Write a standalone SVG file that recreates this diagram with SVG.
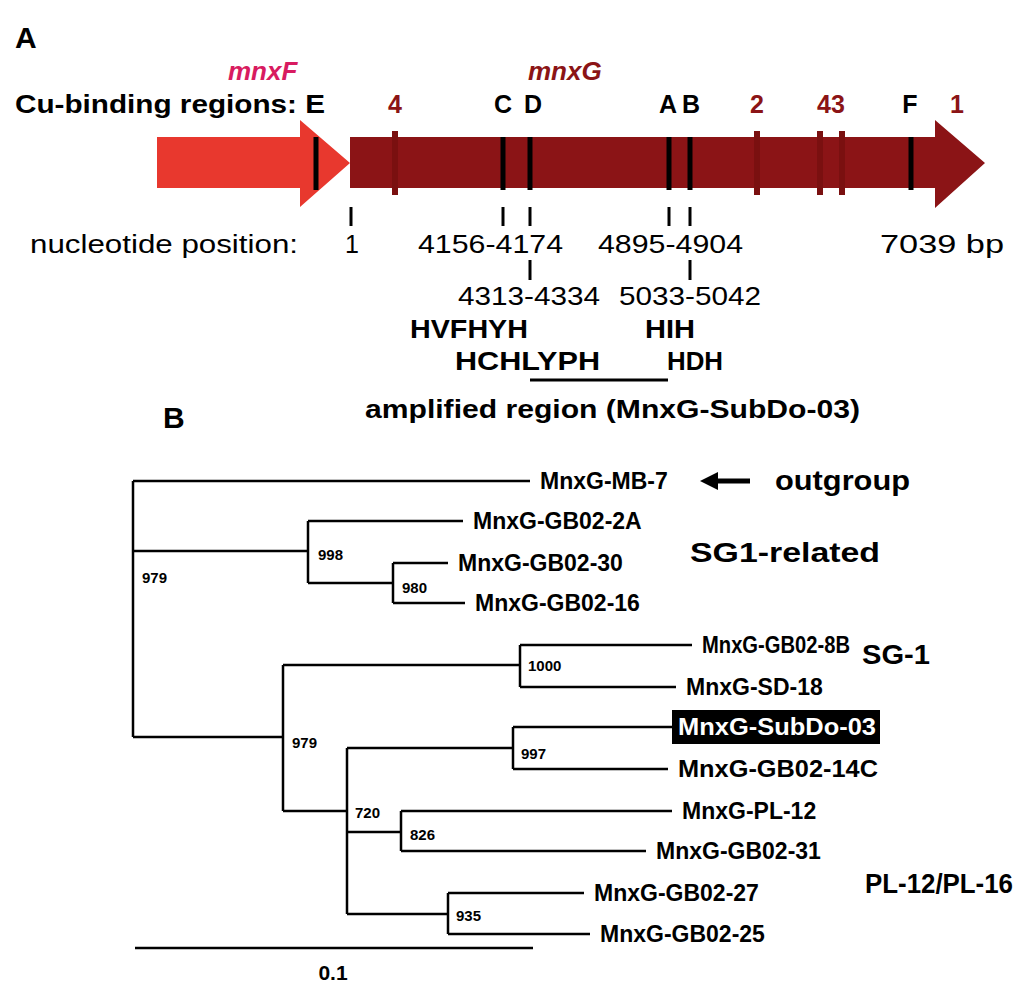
<svg xmlns="http://www.w3.org/2000/svg" width="1028" height="1000" viewBox="0 0 1028 1000">
<style>
text{font-family:"Liberation Sans",Arial,sans-serif}
.b{font-weight:bold}
.lf{font-size:23px;font-weight:bold}
.bs{font-size:15px;font-weight:bold}
.t{stroke:#000;stroke-width:2.5;fill:none}
.bar{stroke:#000;stroke-width:5}
.rt{stroke:#7a1010;stroke-width:6}
.tk{stroke:#000;stroke-width:3}
</style>
<rect width="1028" height="1000" fill="#fff"/>
<text x="15" y="48" class="b" font-size="30">A</text>
<text x="163" y="428" class="b" font-size="30">B</text>
<g id="mnxF">
<polygon points="157,137 300,137 300,120 350,163 300,207 300,188 157,188" fill="#e8382e"/>
<text x="228" y="80" class="b" font-size="26" font-style="italic" fill="#d81b60">mnxF</text>
</g>
<g id="mnxG">
<polygon points="350,137 935,137 935,120 985,163 935,208 935,188 350,188" fill="#8b1416"/>
<text x="528" y="80" class="b" font-size="26" font-style="italic" fill="#8b1416">mnxG</text>
<line class="rt" x1="395" y1="131" x2="395" y2="195"/>
<line class="rt" x1="757" y1="131" x2="757" y2="195"/>
<line class="rt" x1="820" y1="131" x2="820" y2="195"/>
<line class="rt" x1="842" y1="131" x2="842" y2="195"/>
</g>
<g id="cu-regions">
<line class="bar" x1="316" y1="137" x2="316" y2="190"/>
<line class="bar" x1="503" y1="137" x2="503" y2="190"/>
<line class="bar" x1="530" y1="137" x2="530" y2="190"/>
<line class="bar" x1="669" y1="137" x2="669" y2="190"/>
<line class="bar" x1="690" y1="137" x2="690" y2="190"/>
<line class="bar" x1="911" y1="137" x2="911" y2="190"/>
<g class="b" font-size="25" text-anchor="middle">
<text x="15" y="113" text-anchor="start" textLength="310" lengthAdjust="spacingAndGlyphs">Cu-binding regions: E</text>
<text x="395" y="113" fill="#8b1416">4</text>
<text x="503" y="113">C</text>
<text x="533" y="113">D</text>
<text x="668" y="113">A</text>
<text x="691" y="113">B</text>
<text x="757" y="113" fill="#8b1416">2</text>
<text x="831" y="113" fill="#8b1416">43</text>
<text x="910" y="113">F</text>
<text x="957" y="113" fill="#8b1416">1</text>
</g>
</g>
<g id="positions" font-size="25">
<line class="tk" x1="351" y1="207" x2="351" y2="226"/>
<line class="tk" x1="503" y1="207" x2="503" y2="226"/>
<line class="tk" x1="530" y1="207" x2="530" y2="226"/>
<line class="tk" x1="669" y1="207" x2="669" y2="226"/>
<line class="tk" x1="690" y1="207" x2="690" y2="226"/>
<line class="tk" x1="530" y1="260" x2="530" y2="280"/>
<line class="tk" x1="690" y1="260" x2="690" y2="280"/>
<text x="30" y="253" textLength="268" lengthAdjust="spacingAndGlyphs">nucleotide position:</text>
<text x="352" y="253" text-anchor="middle">1</text>
<text x="418" y="253" textLength="145" lengthAdjust="spacingAndGlyphs">4156-4174</text>
<text x="598" y="253" textLength="145" lengthAdjust="spacingAndGlyphs">4895-4904</text>
<text x="880" y="253" textLength="124" lengthAdjust="spacingAndGlyphs">7039 bp</text>
<text x="458" y="305" textLength="142" lengthAdjust="spacingAndGlyphs">4313-4334</text>
<text x="619" y="305" textLength="142" lengthAdjust="spacingAndGlyphs">5033-5042</text>
<g class="b">
<text x="410" y="338" textLength="118" lengthAdjust="spacingAndGlyphs">HVFHYH</text>
<text x="645" y="338" textLength="50" lengthAdjust="spacingAndGlyphs">HIH</text>
<text x="455" y="370" textLength="145" lengthAdjust="spacingAndGlyphs">HCHLYPH</text>
<text x="667" y="370" textLength="56" lengthAdjust="spacingAndGlyphs">HDH</text>
<text x="365" y="418" textLength="495" lengthAdjust="spacingAndGlyphs">amplified region (MnxG-SubDo-03)</text>
</g>
<line class="tk" x1="530" y1="380" x2="668" y2="380"/>
</g>
<g id="connectors">
<path class="t" d="M133,481V737M133,481H530M133,551H308M308,521V583M308,521H463M308,583H393M393,563V603M393,563H448M393,603H465M133,737H283M283,665V811M283,665H520M520,645V687M520,645H692M520,687H676M283,811H347M347,748V914M347,748H513M513,727V769M513,727H672M513,769H668M347,832H401M401,811V851M401,811H672M401,851H646M347,914H448M448,893V934M448,893H584M448,934H590"/>
<line class="t" x1="135" y1="948" x2="533" y2="948"/>
<line x1="750" y1="481" x2="715" y2="481" stroke="#000" stroke-width="5"/>
<polygon points="700,481 718,472 718,490" fill="#000"/>
</g>
<g id="leaves" class="lf">
<text x="540" y="489">MnxG-MB-7</text>
<text x="473" y="529">MnxG-GB02-2A</text>
<text x="458" y="571">MnxG-GB02-30</text>
<text x="475" y="611">MnxG-GB02-16</text>
<text x="702" y="653" textLength="148" lengthAdjust="spacingAndGlyphs">MnxG-GB02-8B</text>
<text x="686" y="695">MnxG-SD-18</text>
<rect x="672" y="710" width="208" height="34" fill="#000"/>
<text x="678" y="735" fill="#fff" textLength="198" lengthAdjust="spacingAndGlyphs">MnxG-SubDo-03</text>
<text x="678" y="777" textLength="200" lengthAdjust="spacingAndGlyphs">MnxG-GB02-14C</text>
<text x="682" y="819">MnxG-PL-12</text>
<text x="656" y="859">MnxG-GB02-31</text>
<text x="594" y="901">MnxG-GB02-27</text>
<text x="600" y="942">MnxG-GB02-25</text>
</g>
<g id="groups" class="b" font-size="27">
<text x="775" y="490" textLength="135" lengthAdjust="spacingAndGlyphs">outgroup</text>
<text x="690" y="562" textLength="190" lengthAdjust="spacingAndGlyphs">SG1-related</text>
<text x="862" y="664" textLength="68" lengthAdjust="spacingAndGlyphs">SG-1</text>
<text x="865" y="893" textLength="148" lengthAdjust="spacingAndGlyphs">PL-12/PL-16</text>
<text x="333" y="980" font-size="21" text-anchor="middle">0.1</text>
</g>
<g id="bootstrap" class="bs">
<text x="142" y="583">979</text>
<text x="318" y="560">998</text>
<text x="402" y="593">980</text>
<text x="528" y="671">1000</text>
<text x="292" y="748">979</text>
<text x="521" y="759">997</text>
<text x="355" y="818">720</text>
<text x="410" y="840">826</text>
<text x="456" y="921">935</text>
</g>
</svg>
